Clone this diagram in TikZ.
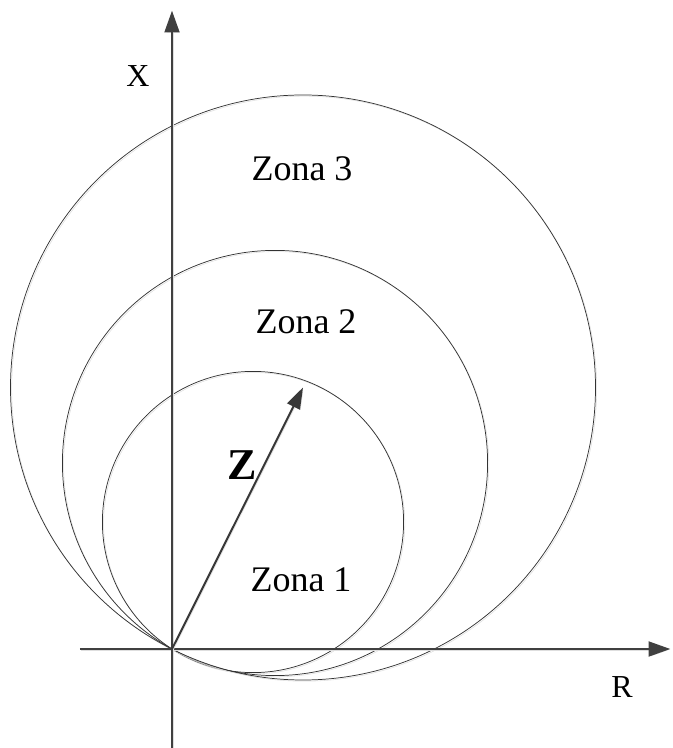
\documentclass[tikz,border=0pt]{standalone}
\usepackage{fontspec}
\setmainfont{Liberation Serif}
\usetikzlibrary{arrows.meta}

\begin{document}
\begin{tikzpicture}[x=0.75pt,y=0.75pt]
      \useasboundingbox (-172,-99) rectangle (500,649);
      \tikzset{
        shadowed/.style = {preaction={draw=black!13, transform canvas={shift={(0.9pt,-0.9pt)}}}},
        axis/.style     = {draw=black!75, line width=2.2pt, shadowed,
                           -{Triangle[length=16.5pt,width=11pt]}},
        zone/.style     = {draw=black!80, line width=0.55pt, shadowed},
        vec/.style      = {draw=black!78, line width=1.5pt, shadowed,
                           -{Triangle[length=16pt,width=10.5pt]}},
        axlabel/.style  = {font=\fontsize{24}{28}\selectfont},
        zonelabel/.style= {font=\fontsize{27}{32}\selectfont},
        veclabel/.style = {font=\fontsize{33}{38}\selectfont\bfseries}
      }

      % Points
      \coordinate (O)   at (0,0);
      \coordinate (R0)  at (-92,0);
      \coordinate (R1)  at (498.5,0);
      \coordinate (X0)  at (0,-99);
      \coordinate (X1)  at (0,638.5);
      \coordinate (c1)  at (81,127);
      \coordinate (c2)  at (103,186);
      \coordinate (c3)  at (131,261.5);

      % Zones
      \draw[zone] (c1) circle (150.6);
      \draw[zone] (c2) circle (212.6);
      \draw[zone] (c3) circle (292.5);

      % Axes
      \draw[axis] (R0) -- (R1);
      \draw[axis] (X0) -- (X1);
      \draw[vec] (O) -- (c3);

      % Labels
      \node[axlabel]   (xlab) at (-34,573) {X};
      \node[axlabel]   (rlab) at (450,-38) {R};
      \node[zonelabel] (z3)   at (130,480) {Zona 3};
      \node[zonelabel] (z2)   at (134,327) {Zona 2};
      \node[zonelabel] (z1)   at (129,69)  {Zona 1};
      \node[veclabel]  (zv)   at (70,184)  {Z};
\end{tikzpicture}
\end{document}
